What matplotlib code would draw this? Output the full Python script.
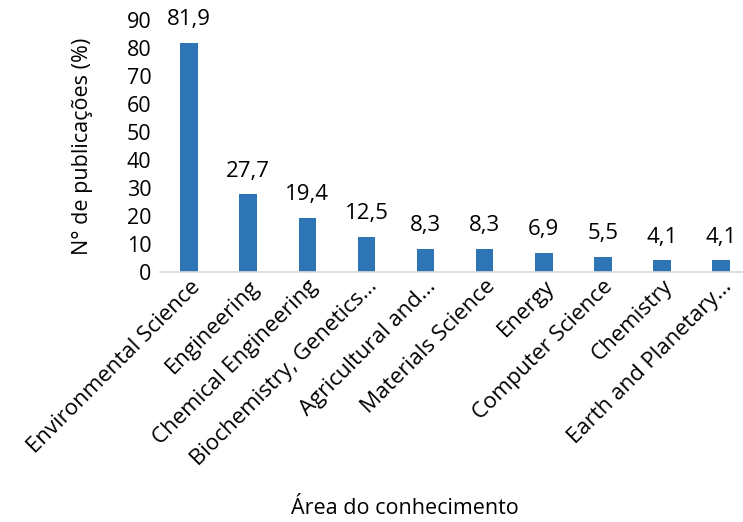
import numpy as np
import matplotlib.pyplot as plt

areas = ['Environmental Science', 'Engineering', 'Chemical Engineering',
         'Biochemistry, Genetics...', 'Agricultural and...', 'Materials Science',
         'Energy', 'Computer Science', 'Chemistry', 'Earth and Planetary...']
percent = [81.9, 27.7, 19.4, 12.5, 8.3, 8.3, 6.9, 5.5, 4.1, 4.1]

plt.rcParams['font.family'] = ['Open Sans', 'DejaVu Sans']

fig = plt.figure(figsize=(7.43, 5.22), dpi=100)
ax = fig.add_axes([0.215, 0.479, 0.795, 0.483])

x = np.arange(len(areas))
ax.bar(x, percent, width=0.3, color='#2E75B6', zorder=2)

# rótulos de valor com vírgula decimal
for xi, v in zip(x, percent):
    ax.annotate(f'{v:.1f}'.replace('.', ','), (xi, v), xytext=(0, 9),
                textcoords='offset points', ha='center', va='bottom', fontsize=16)

ax.set_xlim(-0.5, len(areas) - 0.5)
ax.set_ylim(0, 90)
ax.set_yticks(range(0, 91, 10))
ax.tick_params(axis='y', length=0, labelsize=15.5, pad=6)
ax.tick_params(axis='x', length=0, labelsize=16, pad=3)
ax.set_xticks(x)
ax.set_xticklabels(areas, rotation=45, ha='right', rotation_mode='anchor')

for s in ['top', 'right', 'left']:
    ax.spines[s].set_visible(False)
ax.spines['bottom'].set_color('#D9D9D9')
ax.spines['bottom'].set_linewidth(1.2)

ax.set_ylabel('N° de publicações (%)', fontsize=15.5, labelpad=24)
fig.text(0.545, 0.005, 'Área do conhecimento', ha='center', va='bottom', fontsize=15.5)

fig.savefig('out.png', dpi=100)
